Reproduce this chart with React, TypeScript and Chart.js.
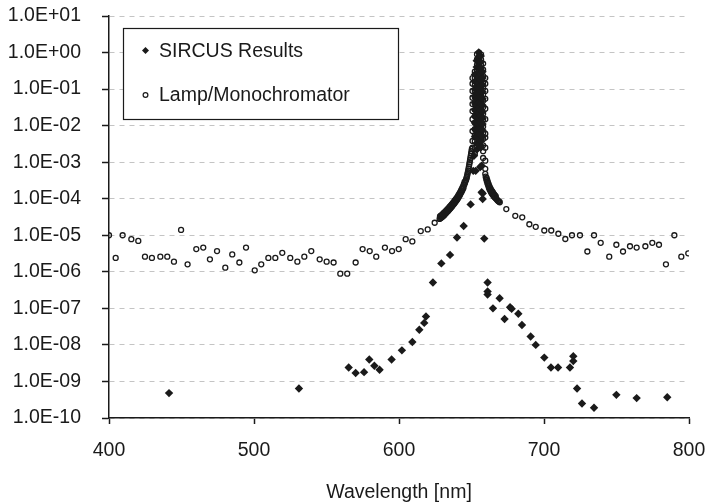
import React, { useEffect, useRef } from 'react';
import { Chart, registerables } from 'chart.js';

Chart.register(...registerables);

const FONT = '"Liberation Sans", Arial, Helvetica, sans-serif';
const TEXT = '#1a1a1a';
const FONT_SIZE = 19.5;

const xTitle = 'Wavelength [nm]';
const xTickValues = [400, 500, 600, 700, 800];
const yTickValues = [1e-10, 1e-9, 1e-8, 1e-7, 1e-6, 1e-5, 1e-4, 1e-3, 1e-2, 1e-1, 1e0, 1e1];
const yTickLabels = ['1.0E-10', '1.0E-09', '1.0E-08', '1.0E-07', '1.0E-06', '1.0E-05', '1.0E-04', '1.0E-03', '1.0E-02', '1.0E-01', '1.0E+00', '1.0E+01'];

const sircusLabel = 'SIRCUS Results';
const lampLabel = 'Lamp/Monochromator';

// SIRCUS results (filled diamonds)
const sircusX = [
  441.4, 531.0, 565.3, 570.1, 575.9, 579.5, 583.0, 586.6, 594.9, 602.0,
  609.2, 614.0, 617.4, 618.6, 623.4, 629.2, 635.2, 640.0, 644.6, 649.4,
  651.2, 651.7, 652.9, 656.0, 656.6, 657.0, 657.0, 657.7, 657.7, 658.8,
  661.1, 661.1, 661.1, 664.8, 669.4, 672.8, 676.6, 677.7, 682.3, 684.8,
  690.8, 694.3, 700.2, 704.8, 709.7, 717.9, 720.2, 720.2, 722.8, 726.2,
  734.5, 749.9, 763.9, 785.0,
];
const sircusY = [
  4.8e-10, 6.4e-10, 2.4e-9, 1.7e-9, 1.8e-9, 4.0e-9, 2.7e-9, 2.1e-9, 4.0e-9, 7.1e-9,
  1.2e-8, 2.6e-8, 4.0e-8, 6.0e-8, 5.1e-7, 1.7e-6, 2.9e-6, 8.7e-6, 1.8e-5, 7.0e-5,
  5.8e-4, 1.5e-3, 5.8e-4, 7.4e-4, 2.8e-3, 1.5e-4, 8.0e-4, 1.4e-4, 9.8e-5, 8.1e-6,
  5.1e-7, 2.9e-7, 2.4e-7, 1.0e-7, 1.9e-7, 5.1e-8, 1.07e-7, 9.7e-8, 7.1e-8, 3.5e-8,
  1.7e-8, 1.0e-8, 4.5e-9, 2.4e-9, 2.4e-9, 2.4e-9, 4.9e-9, 3.6e-9, 6.4e-10, 2.5e-10,
  1.9e-10, 4.3e-10, 3.5e-10, 3.7e-10,
];
// SIRCUS points inside the peak
const sircusPeakX = [
  652.4, 652.4, 652.4, 652.4, 652.4, 652.4, 652.4, 652.4, 652.4, 652.4,
  653.6, 653.6, 653.6, 653.6, 653.6, 653.6, 653.6, 653.6, 653.6, 653.6, 653.6, 653.6, 653.6, 653.6, 653.6,
  655.0, 655.0, 655.0, 655.0, 655.0, 655.0, 655.0, 655.0, 655.0, 655.0, 655.0, 655.0, 655.0, 655.0, 655.0, 655.0, 655.0, 655.0, 655.0,
  656.4, 656.4, 656.4, 656.4, 656.4, 656.4, 656.4, 656.4, 656.4, 656.4, 656.4, 656.4, 656.4, 656.4, 656.4, 656.4,
  657.6, 657.6, 657.6, 657.6, 657.6, 657.6, 657.6, 657.6, 657.6, 657.6, 657.6,
];
const sircusPeakY = [
  0.25, 0.16, 0.1, 0.065, 0.042, 0.027, 0.018, 0.012, 0.008, 0.005,
  0.6, 0.4, 0.27, 0.18, 0.12, 0.08, 0.055, 0.037, 0.025, 0.017, 0.011, 0.0075, 0.005, 0.0033, 0.0022,
  1.0, 0.75, 0.55, 0.4, 0.29, 0.21, 0.15, 0.11, 0.08, 0.058, 0.042, 0.03, 0.022, 0.016, 0.011, 0.008, 0.0058, 0.0042, 0.003,
  0.8, 0.55, 0.38, 0.26, 0.18, 0.12, 0.085, 0.058, 0.04, 0.027, 0.018, 0.012, 0.008, 0.0055, 0.0037, 0.0025,
  0.3, 0.2, 0.13, 0.085, 0.055, 0.036, 0.024, 0.016, 0.011, 0.0075, 0.005,
];

// Lamp / monochromator (open circles), background level
const lampLeftX = [
  400.0, 404.6, 409.4, 415.4, 420.2, 424.8, 429.6, 435.4, 440.2, 444.8,
  449.7, 454.2, 460.2, 465.0, 469.6, 474.5, 480.2, 485.0, 489.9, 494.5,
  500.5, 505.0, 509.9, 514.7, 519.5, 525.0, 529.9, 534.7, 539.5, 545.3,
  550.1, 554.9, 559.5, 564.3, 570.1, 574.9, 579.8, 584.3, 590.3, 595.2,
  599.8, 604.6, 609.2, 615.0, 619.8, 624.6,
];
const lampLeftY = [
  1.0e-5, 2.4e-6, 1.0e-5, 7.8e-6, 7.0e-6, 2.6e-6, 2.4e-6, 2.6e-6, 2.6e-6, 1.9e-6,
  1.4e-5, 1.6e-6, 4.2e-6, 4.6e-6, 2.2e-6, 3.7e-6, 1.3e-6, 3.0e-6, 1.8e-6, 4.6e-6,
  1.1e-6, 1.6e-6, 2.4e-6, 2.4e-6, 3.3e-6, 2.4e-6, 1.9e-6, 2.6e-6, 3.7e-6, 2.2e-6,
  1.9e-6, 1.8e-6, 8.9e-7, 8.9e-7, 1.8e-6, 4.2e-6, 3.7e-6, 2.6e-6, 4.6e-6, 3.7e-6,
  4.2e-6, 7.8e-6, 6.8e-6, 1.3e-5, 1.45e-5, 2.2e-5,
];
// rising wing of the line (first scan)
const lampRiseX = [
  628.0, 628.5, 629.0, 629.5, 630.0, 630.5, 631.0, 631.5, 632.0, 632.5,
  633.0, 633.5, 634.0, 634.5, 635.0, 635.5, 636.0, 636.5, 637.0, 637.5,
  638.0, 638.5, 639.0, 639.5, 640.0, 640.5, 641.0, 641.5, 642.0, 642.5,
  643.0, 643.5, 644.0, 644.5, 645.0, 645.5, 646.0, 646.5, 647.0, 647.5,
  648.0, 648.5, 649.0, 649.5, 650.0, 646.25, 646.75, 647.25, 647.75, 648.25,
  648.75, 649.25, 649.75, 650.25,
];
const lampRiseY = [
  2.8e-5, 2.9e-5, 3.0e-5, 3.1e-5, 3.2e-5, 3.4e-5, 3.5e-5, 3.7e-5, 3.9e-5, 4.1e-5,
  4.3e-5, 4.5e-5, 4.7e-5, 5.0e-5, 5.2e-5, 5.5e-5, 5.8e-5, 6.1e-5, 6.5e-5, 6.9e-5,
  7.3e-5, 7.8e-5, 8.3e-5, 8.8e-5, 9.4e-5, 1.0e-4, 1.08e-4, 1.17e-4, 1.27e-4, 1.38e-4,
  1.5e-4, 1.65e-4, 1.82e-4, 2.0e-4, 2.4e-4, 2.7e-4, 3.1e-4, 3.6e-4, 4.3e-4, 5.3e-4,
  6.8e-4, 8.8e-4, 1.15e-3, 1.5e-3, 2.0e-3, 3.3e-4, 3.9e-4, 4.8e-4, 6.0e-4, 7.7e-4,
  1.0e-3, 1.3e-3, 1.75e-3, 2.3e-3,
];
// rising wing of the line (second scan)
const lampRise2X = [
  628.25, 628.75, 629.25, 629.75, 630.25, 630.75, 631.25, 631.75, 632.25, 632.75,
  633.25, 633.75, 634.25, 634.75, 635.25, 635.75, 636.25, 636.75, 637.25, 637.75,
  638.25, 638.75, 639.25, 639.75, 640.25, 640.75, 641.25, 641.75, 642.25, 642.75,
  643.25, 643.75, 644.25, 644.75, 645.25,
];
const lampRise2Y = [
  3.3e-5, 3.4e-5, 3.5e-5, 3.65e-5, 3.8e-5, 4.0e-5, 4.15e-5, 4.35e-5, 4.6e-5, 4.8e-5,
  5.05e-5, 5.3e-5, 5.55e-5, 5.9e-5, 6.15e-5, 6.5e-5, 6.85e-5, 7.2e-5, 7.7e-5, 8.1e-5,
  8.7e-5, 9.2e-5, 9.8e-5, 1.04e-4, 1.11e-4, 1.2e-4, 1.3e-4, 1.4e-4, 1.52e-4, 1.66e-4,
  1.82e-4, 2.0e-4, 2.2e-4, 2.5e-4, 2.9e-4,
];
// columns at the line peak
const lampPeakX = [
  650.7, 650.7, 650.7, 650.7, 650.7, 650.7, 650.7, 650.7, 650.7, 650.7,
  652.3, 652.3, 652.3, 652.3, 652.3, 652.3, 652.3, 652.3, 652.3, 652.3, 652.3, 652.3, 652.3, 652.3,
  653.8, 653.8, 653.8, 653.8, 653.8, 653.8, 653.8, 653.8, 653.8, 653.8, 653.8, 653.8, 653.8, 653.8, 653.8,
  655.2, 655.2, 655.2, 655.2, 655.2, 655.2, 655.2, 655.2, 655.2, 655.2, 655.2, 655.2, 655.2,
  656.6, 656.6, 656.6, 656.6, 656.6, 656.6, 656.6, 656.6, 656.6, 656.6, 656.6, 656.6, 656.6, 656.6, 656.6,
  658.0, 658.0, 658.0, 658.0, 658.0, 658.0, 658.0, 658.0, 658.0, 658.0, 658.0, 658.0, 658.0, 658.0, 658.0, 658.0,
  659.5, 659.5, 659.5, 659.5, 659.5, 659.5, 659.5, 659.5, 659.5, 659.5, 659.5, 659.5,
];
const lampPeakY = [
  0.2, 0.14, 0.089, 0.058, 0.039, 0.025, 0.015, 0.0071, 0.0038, 0.0025,
  0.3, 0.2, 0.13, 0.09, 0.06, 0.04, 0.027, 0.018, 0.012, 0.008, 0.0055, 0.0037, 0.0025, 0.0017,
  0.9, 0.65, 0.46, 0.33, 0.23, 0.16, 0.11, 0.075, 0.052, 0.036, 0.025, 0.017, 0.012, 0.008, 0.0055,
  1.0, 0.78, 0.58, 0.43, 0.31, 0.22, 0.15, 0.1, 0.07, 0.048, 0.033, 0.023, 0.016,
  0.88, 0.64, 0.45, 0.31, 0.21, 0.145, 0.1, 0.068, 0.046, 0.031, 0.021, 0.014, 0.0095, 0.0064, 0.0043,
  0.5, 0.34, 0.23, 0.155, 0.105, 0.071, 0.048, 0.032, 0.021, 0.014, 0.0095, 0.0064, 0.0043, 0.0029, 0.002, 0.0013,
  0.2, 0.14, 0.089, 0.054, 0.029, 0.015, 0.006, 0.0047, 0.0025, 0.0011, 0.00066, 0.00048,
];
// falling wing of the line (first scan)
const lampFallX = [
  659.8, 660.2, 660.6, 661.0, 661.5, 662.0, 662.5, 663.0, 663.5, 664.0,
  664.5, 665.0, 665.5, 666.0, 666.5, 667.0, 667.5, 668.0, 668.5, 669.0, 669.5,
];
const lampFallY = [
  4.0e-4, 3.4e-4, 3.0e-4, 2.6e-4, 2.3e-4, 2.0e-4, 1.8e-4, 1.65e-4, 1.5e-4, 1.4e-4,
  1.3e-4, 1.22e-4, 1.15e-4, 1.1e-4, 1.05e-4, 1.0e-4, 9.5e-5, 9.0e-5, 8.6e-5, 8.3e-5, 8.0e-5,
];
// falling wing of the line (second scan)
const lampFall2X = [
  660.4, 660.8, 661.25, 661.75, 662.25, 662.75, 663.25, 663.75, 664.25, 664.75,
  665.25, 665.75, 666.25, 666.75,
];
const lampFall2Y = [
  3.7e-4, 3.3e-4, 2.9e-4, 2.55e-4, 2.25e-4, 2.0e-4, 1.85e-4, 1.7e-4, 1.58e-4, 1.48e-4,
  1.38e-4, 1.3e-4, 1.22e-4, 1.15e-4,
];
const lampRightX = [
  674.0, 680.2, 685.0, 689.9, 694.3, 700.2, 705.0, 709.9, 714.7, 719.3,
  724.8, 729.9, 734.5, 739.1, 745.0, 749.9, 754.5, 759.3, 763.9, 769.9,
  774.7, 779.3, 784.1, 789.9, 794.7, 799.5,
];
const lampRightY = [
  5.2e-5, 3.4e-5, 3.1e-5, 2.0e-5, 1.7e-5, 1.35e-5, 1.35e-5, 1.1e-5, 7.9e-6, 1.0e-5,
  1.0e-5, 3.6e-6, 1.0e-5, 6.2e-6, 2.6e-6, 5.5e-6, 3.6e-6, 5.0e-6, 4.6e-6, 5.0e-6,
  6.2e-6, 5.5e-6, 1.6e-6, 1.0e-5, 2.6e-6, 3.2e-6,
];

const toPoints = (xs: number[], ys: number[]) => xs.map((x, i) => ({ x, y: ys[i] }));

const legendPlugin = {
  id: 'boxLegend',
  afterDatasetsDraw(chart: any) {
    const { ctx, chartArea } = chart;
    const left = chartArea.left + 14;
    const top = chartArea.top + 12;
    const w = 275;
    const h = 91;
    ctx.save();
    ctx.fillStyle = '#ffffff';
    ctx.fillRect(left, top, w, h);
    ctx.strokeStyle = '#1a1a1a';
    ctx.lineWidth = 1.2;
    ctx.strokeRect(left + 0.5, top + 0.5, w, h);
    const mx = left + 22.5;
    const y1 = top + 22.5;
    const y2 = top + 67;
    ctx.fillStyle = TEXT;
    ctx.beginPath();
    ctx.moveTo(mx, y1 - 3.5);
    ctx.lineTo(mx + 3.5, y1);
    ctx.lineTo(mx, y1 + 3.5);
    ctx.lineTo(mx - 3.5, y1);
    ctx.closePath();
    ctx.fill();
    ctx.beginPath();
    ctx.arc(mx, y2, 2.4, 0, Math.PI * 2);
    ctx.lineWidth = 1.2;
    ctx.strokeStyle = TEXT;
    ctx.stroke();
    ctx.fillStyle = TEXT;
    ctx.font = `${FONT_SIZE}px ${FONT}`;
    ctx.textBaseline = 'middle';
    ctx.textAlign = 'left';
    ctx.fillText(sircusLabel, left + 36, y1 + 1);
    ctx.fillText(lampLabel, left + 36, y2 + 1);
    ctx.restore();
  },
};

export default function App() {
  const ref = useRef<HTMLCanvasElement | null>(null);
  useEffect(() => {
    document.body.style.margin = '0';
    const canvas = ref.current;
    if (!canvas) return;
    const chart = new Chart(canvas, {
      type: 'scatter',
      data: {
        datasets: [
          {
            label: sircusLabel,
            data: [...toPoints(sircusX, sircusY), ...toPoints(sircusPeakX, sircusPeakY)],
            pointStyle: 'rectRot',
            pointRadius: 4.2,
            backgroundColor: TEXT,
            borderColor: TEXT,
            borderWidth: 0,
            order: 1,
          },
          {
            label: lampLabel,
            data: [
              ...toPoints(lampLeftX, lampLeftY),
              ...toPoints(lampRiseX, lampRiseY),
              ...toPoints(lampRise2X, lampRise2Y),
              ...toPoints(lampPeakX, lampPeakY),
              ...toPoints(lampFallX, lampFallY),
              ...toPoints(lampFall2X, lampFall2Y),
              ...toPoints(lampRightX, lampRightY),
            ],
            pointStyle: 'circle',
            pointRadius: 2.5,
            backgroundColor: 'rgba(255,255,255,0)',
            borderColor: TEXT,
            borderWidth: 1.3,
            order: 2,
          },
        ],
      },
      options: {
        animation: false,
        responsive: false,
        maintainAspectRatio: false,
        layout: { padding: { left: 0, right: 16, top: 16, bottom: 0 } },
        plugins: {
          legend: { display: false },
          tooltip: { enabled: false },
        },
        scales: {
          x: {
            type: 'linear',
            min: 400,
            max: 800,
            afterBuildTicks: (scale: any) => {
              scale.ticks = xTickValues.map((v) => ({ value: v }));
            },
            afterFit: (scale: any) => {
              scale.height = 86;
              scale.paddingLeft = 0;
              scale.paddingRight = 0;
            },
            ticks: {
              color: TEXT,
              font: { family: FONT, size: FONT_SIZE },
              padding: 15,
              maxRotation: 0,
            },
            grid: {
              drawOnChartArea: false,
              drawTicks: true,
              tickLength: 6,
              tickColor: TEXT,
              tickWidth: 1.5,
            },
            border: { display: true, color: TEXT, width: 1.5 },
            title: {
              display: true,
              text: xTitle,
              color: TEXT,
              font: { family: FONT, size: FONT_SIZE },
              padding: { top: 0, bottom: 0 },
            },
          },
          y: {
            type: 'logarithmic',
            min: 1e-10,
            max: 10,
            afterBuildTicks: (scale: any) => {
              scale.ticks = yTickValues.map((v) => ({ value: v }));
            },
            afterFit: (scale: any) => {
              scale.width = 109;
              scale.paddingTop = 0;
              scale.paddingBottom = 0;
            },
            ticks: {
              color: TEXT,
              font: { family: FONT, size: FONT_SIZE },
              padding: 21,
              callback: (_v: any, i: number) => yTickLabels[i],
            },
            grid: {
              color: '#c4c4c4',
              lineWidth: 1,
              drawTicks: true,
              tickLength: 7,
              tickColor: TEXT,
              tickWidth: 1.5,
              tickBorderDash: [],
            },
            border: { display: true, color: TEXT, width: 1.5, dash: [5, 5] },
          },
        },
      },
      plugins: [legendPlugin],
    });
    return () => chart.destroy();
  }, []);
  return (
    <div style={{ position: 'absolute', left: 0, top: 0, width: 705, height: 504, background: '#fff' }}>
      <canvas ref={ref} width={705} height={504} style={{ display: 'block' }} />
    </div>
  );
}
